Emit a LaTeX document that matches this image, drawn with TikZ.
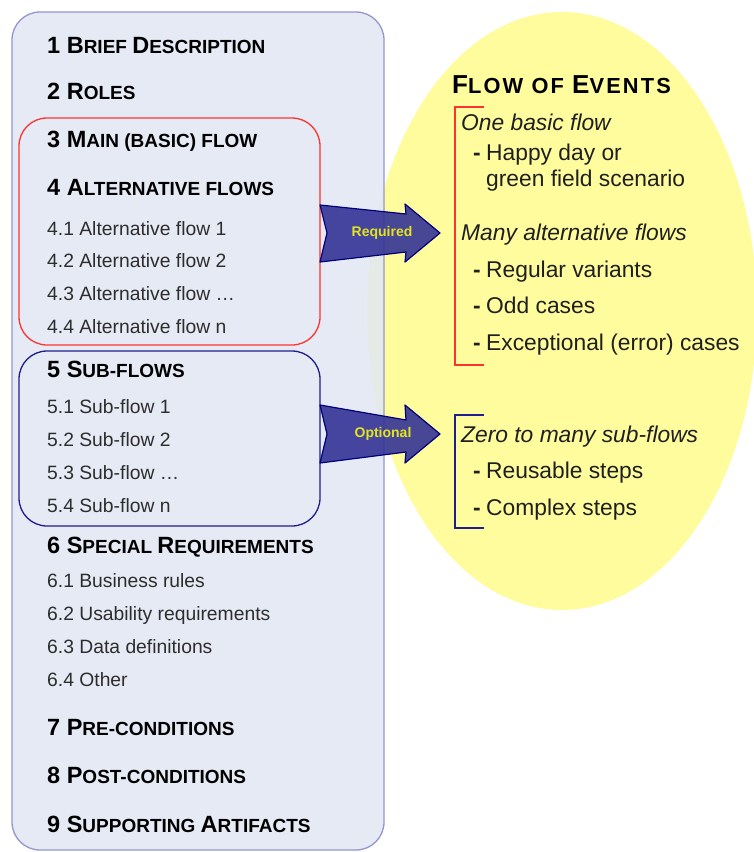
\documentclass[tikz,border=0pt]{standalone}
\usepackage{fontspec}
\setmainfont{Liberation Sans}
\newfontfamily\headfont[LetterSpace=10]{Liberation Sans}
\definecolor{panelfill}{RGB}{226,231,244}
\definecolor{panelline}{RGB}{150,150,204}
\definecolor{ellfill}{RGB}{255,252,158}
\definecolor{redline}{RGB}{255,50,50}
\definecolor{navyline}{RGB}{30,30,140}
\definecolor{arrowfill}{RGB}{52,52,150}
\definecolor{arrowline}{RGB}{0,0,120}
\definecolor{labelyellow}{RGB}{228,228,30}
\definecolor{subtext}{RGB}{45,45,45}
\newcommand\Lc[1]{{\fontsize{23.5pt}{25pt}\selectfont #1}}
\newcommand\Sc[1]{{\fontsize{19pt}{21pt}\selectfont #1}}
\newcommand\Lh[1]{{\fontsize{26pt}{28pt}\selectfont #1}}
\newcommand\Sh[1]{{\fontsize{21.8pt}{24pt}\selectfont #1}}
\tikzset{
  head/.style={anchor=base west, inner sep=0, font=\bfseries, text=black},
  sub/.style={anchor=base west, inner sep=0, font=\fontsize{19.3pt}{21pt}\selectfont, text=subtext},
  rtext/.style={anchor=base west, inner sep=0, font=\fontsize{22.8pt}{24pt}\selectfont, text=black!88},
  rital/.style={anchor=base west, inner sep=0, font=\fontsize{22.8pt}{24pt}\selectfont\itshape, text=black!88},
  dashmark/.style={anchor=base west, inner sep=0, font=\bfseries\fontsize{22.8pt}{24pt}\selectfont, text=black!88},
  arrowshape/.style={fill=arrowfill, fill opacity=0.9, draw=arrowline, line width=1.2pt, line join=round},
  arrowlabel/.style={font=\bfseries\fontsize{14pt}{15pt}\selectfont, text=labelyellow, inner sep=0},
  groupbox/.style={rounded corners=28pt, line width=1.3pt},
  bracket/.style={line width=1.3pt}
}
\begin{document}
\begin{tikzpicture}[x=1pt,y=-1pt]
\useasboundingbox (0,0) rectangle (753,852);
\fill[white] (0,0) rectangle (753,852);
% yellow ellipse
\fill[ellfill] (562,311) ellipse [x radius=195, y radius=299];
% panel
\draw[panelline, line width=1.3pt, fill=panelfill, fill opacity=0.85, rounded corners=28pt] (12,12) rectangle (384,850);
% group boxes
\draw[groupbox, draw=redline] (19,118) rectangle (320,345);
\draw[groupbox, draw=navyline] (19,351) rectangle (320,526);
% left texts
\node[head] (h1) at (47,53) {\Lc{1 B}\Sc{RIEF }\Lc{D}\Sc{ESCRIPTION}};
\node[head] (h2) at (47,99) {\Lc{2 R}\Sc{OLES}};
\node[head] (h3) at (47,147) {\Lc{3 M}\Sc{AIN (BASIC) FLOW}};
\node[head] (h4) at (47,195) {\Lc{4 A}\Sc{LTERNATIVE FLOWS}};
\node[sub] (s41) at (47,235) {4.1 Alternative flow 1};
\node[sub] (s42) at (47,267) {4.2 Alternative flow 2};
\node[sub] (s43) at (47,300) {4.3 Alternative flow …};
\node[sub] (s44) at (47,333) {4.4 Alternative flow n};
\node[head] (h5) at (47,377) {\Lc{5 S}\Sc{UB-FLOWS}};
\node[sub] (s51) at (47,413) {5.1 Sub-flow 1};
\node[sub] (s52) at (47,446) {5.2 Sub-flow 2};
\node[sub] (s53) at (47,479) {5.3 Sub-flow …};
\node[sub] (s54) at (47,512) {5.4 Sub-flow n};
\node[head] (h6) at (47,553) {\Lc{6 S}\Sc{PECIAL }\Lc{R}\Sc{EQUIREMENTS}};
\node[sub] (s61) at (47,587) {6.1 Business rules};
\node[sub] (s62) at (47,620) {6.2 Usability requirements};
\node[sub] (s63) at (47,653) {6.3 Data definitions};
\node[sub] (s64) at (47,686) {6.4 Other};
\node[head] (h7) at (47,735) {\Lc{7 P}\Sc{RE-CONDITIONS}};
\node[head] (h8) at (47,783) {\Lc{8 P}\Sc{OST-CONDITIONS}};
\node[head] (h9) at (47,832) {\Lc{9 S}\Sc{UPPORTING }\Lc{A}\Sc{RTIFACTS}};
% right texts
\node[head, font=\headfont\bfseries] (foe) at (452,93) {\Lh{F}\Sh{LOW OF }\Lh{E}\Sh{VENTS}};
\node[rital] (r1) at (461,130) {One basic flow};
\node[dashmark] (d1) at (473,160) {-};
\node[rtext] (r2) at (486,160) {Happy day or};
\node[rtext] (r3) at (486,186) {green field scenario};
\node[rital] (r4) at (461,240) {Many alternative flows};
\node[dashmark] (d2) at (473,277) {-};
\node[rtext] (r5) at (486,277) {Regular variants};
\node[dashmark] (d3) at (473,313) {-};
\node[rtext] (r6) at (486,313) {Odd cases};
\node[dashmark] (d4) at (473,350) {-};
\node[rtext] (r7) at (486,350) {Exceptional (error) cases};
\node[rital] (r8) at (461,442) {Zero to many sub-flows};
\node[dashmark] (d5) at (473,478) {-};
\node[rtext] (r9) at (486,478) {Reusable steps};
\node[dashmark] (d6) at (473,515) {-};
\node[rtext] (r10) at (486,515) {Complex steps};
% brackets
\draw[bracket, redline] (484,107) -- (455,107) -- (455,365) -- (484,365);
\draw[bracket, navyline] (484,415) -- (455,415) -- (455,528) -- (484,528);
% block arrows
\draw[arrowshape] (320,205) -- (406,214) -- (405,204) -- (440,233) -- (405,262) -- (406,252) -- (320,262) -- (327,233) -- cycle;
\node[arrowlabel] (req) at (382,233) {Required};
\draw[arrowshape] (320,405) -- (406,420) -- (405,405) -- (440,434) -- (405,463) -- (406,452) -- (320,463) -- (327,434) -- cycle;
\node[arrowlabel] (opt) at (383,434) {Optional};
\end{tikzpicture}
\end{document}
